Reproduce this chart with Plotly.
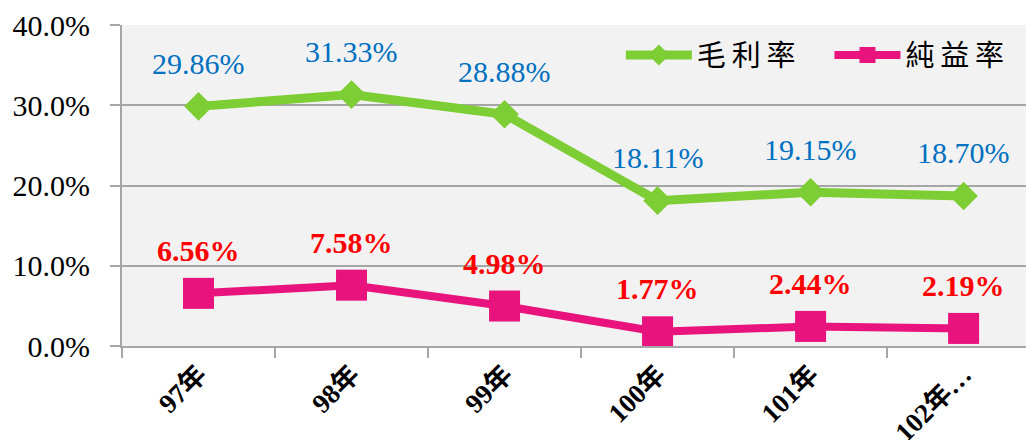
import plotly.graph_objects as go

years = ["97年", "98年", "99年", "100年", "101年", "102年…"]
gross_margin = [0.2986, 0.3133, 0.2888, 0.1811, 0.1915, 0.1870]
net_margin = [0.0656, 0.0758, 0.0498, 0.0177, 0.0244, 0.0219]
y_ticks = [0.0, 0.1, 0.2, 0.3, 0.4]
legend_names = ["毛\u2009利\u2009率\u2003", "純\u2009益\u2009率"]

GREEN = "#7DCD35"
PINK = "#E8137C"
GRID = "#A6A6A6"
SERIF = "Liberation Serif, Times New Roman, Noto Sans CJK TC, serif"

fig = go.Figure()
fig.add_trace(go.Scatter(
    x=years, y=gross_margin, name=legend_names[0], mode="lines+markers",
    line=dict(color=GREEN, width=9),
    marker=dict(symbol="diamond", size=22, color=GREEN),
))
fig.add_trace(go.Scatter(
    x=years, y=net_margin, name=legend_names[1], mode="lines+markers",
    line=dict(color=PINK, width=8),
    marker=dict(symbol="square", size=31, color=PINK),
))

for x, v in zip(years, gross_margin):
    fig.add_annotation(x=x, y=v, text=f"{v*100:.2f}%", showarrow=False,
                       yshift=43, font=dict(family=SERIF, size=30, color="#0070C0"))
for x, v in zip(years, net_margin):
    fig.add_annotation(x=x, y=v, text=f"{v*100:.2f}%", showarrow=False,
                       yshift=43, font=dict(family=SERIF, size=30, color="#FF0000", weight="bold"))

fig.update_layout(
    width=1026, height=432,
    margin=dict(l=114, r=0, t=17, b=94),
    paper_bgcolor="white", plot_bgcolor="#F2F2F2",
    showlegend=True,
    legend=dict(orientation="h", x=0.547, y=0.906, xanchor="left", yanchor="middle",
                bgcolor="rgba(0,0,0,0)", font=dict(family="Noto Sans CJK TC", size=29, color="black"),
                itemwidth=66, tracegroupgap=0),
    xaxis=dict(
        type="category", categoryorder="array", categoryarray=years,
        range=[-0.5, 5.46], tickson="boundaries", automargin=False,
        ticks="outside", ticklen=10, tickwidth=1.5, tickcolor=GRID,
        showline=True, linecolor=GRID, linewidth=2, showgrid=False,
        tickangle=-45,
        tickfont=dict(family=SERIF, size=27, color="black", weight="bold"),
    ),
    yaxis=dict(
        range=[0, 0.4], tickvals=y_ticks, tickformat=".1%", automargin=False,
        ticks="outside", ticklen=10, tickwidth=1.5, tickcolor=GRID,
        showline=True, linecolor=GRID, linewidth=2,
        showgrid=True, gridcolor=GRID, gridwidth=1.5, zeroline=False,
        ticklabelstandoff=14,
        tickfont=dict(family=SERIF, size=30, color="black"),
    ),
)

fig.write_html("out.html")
